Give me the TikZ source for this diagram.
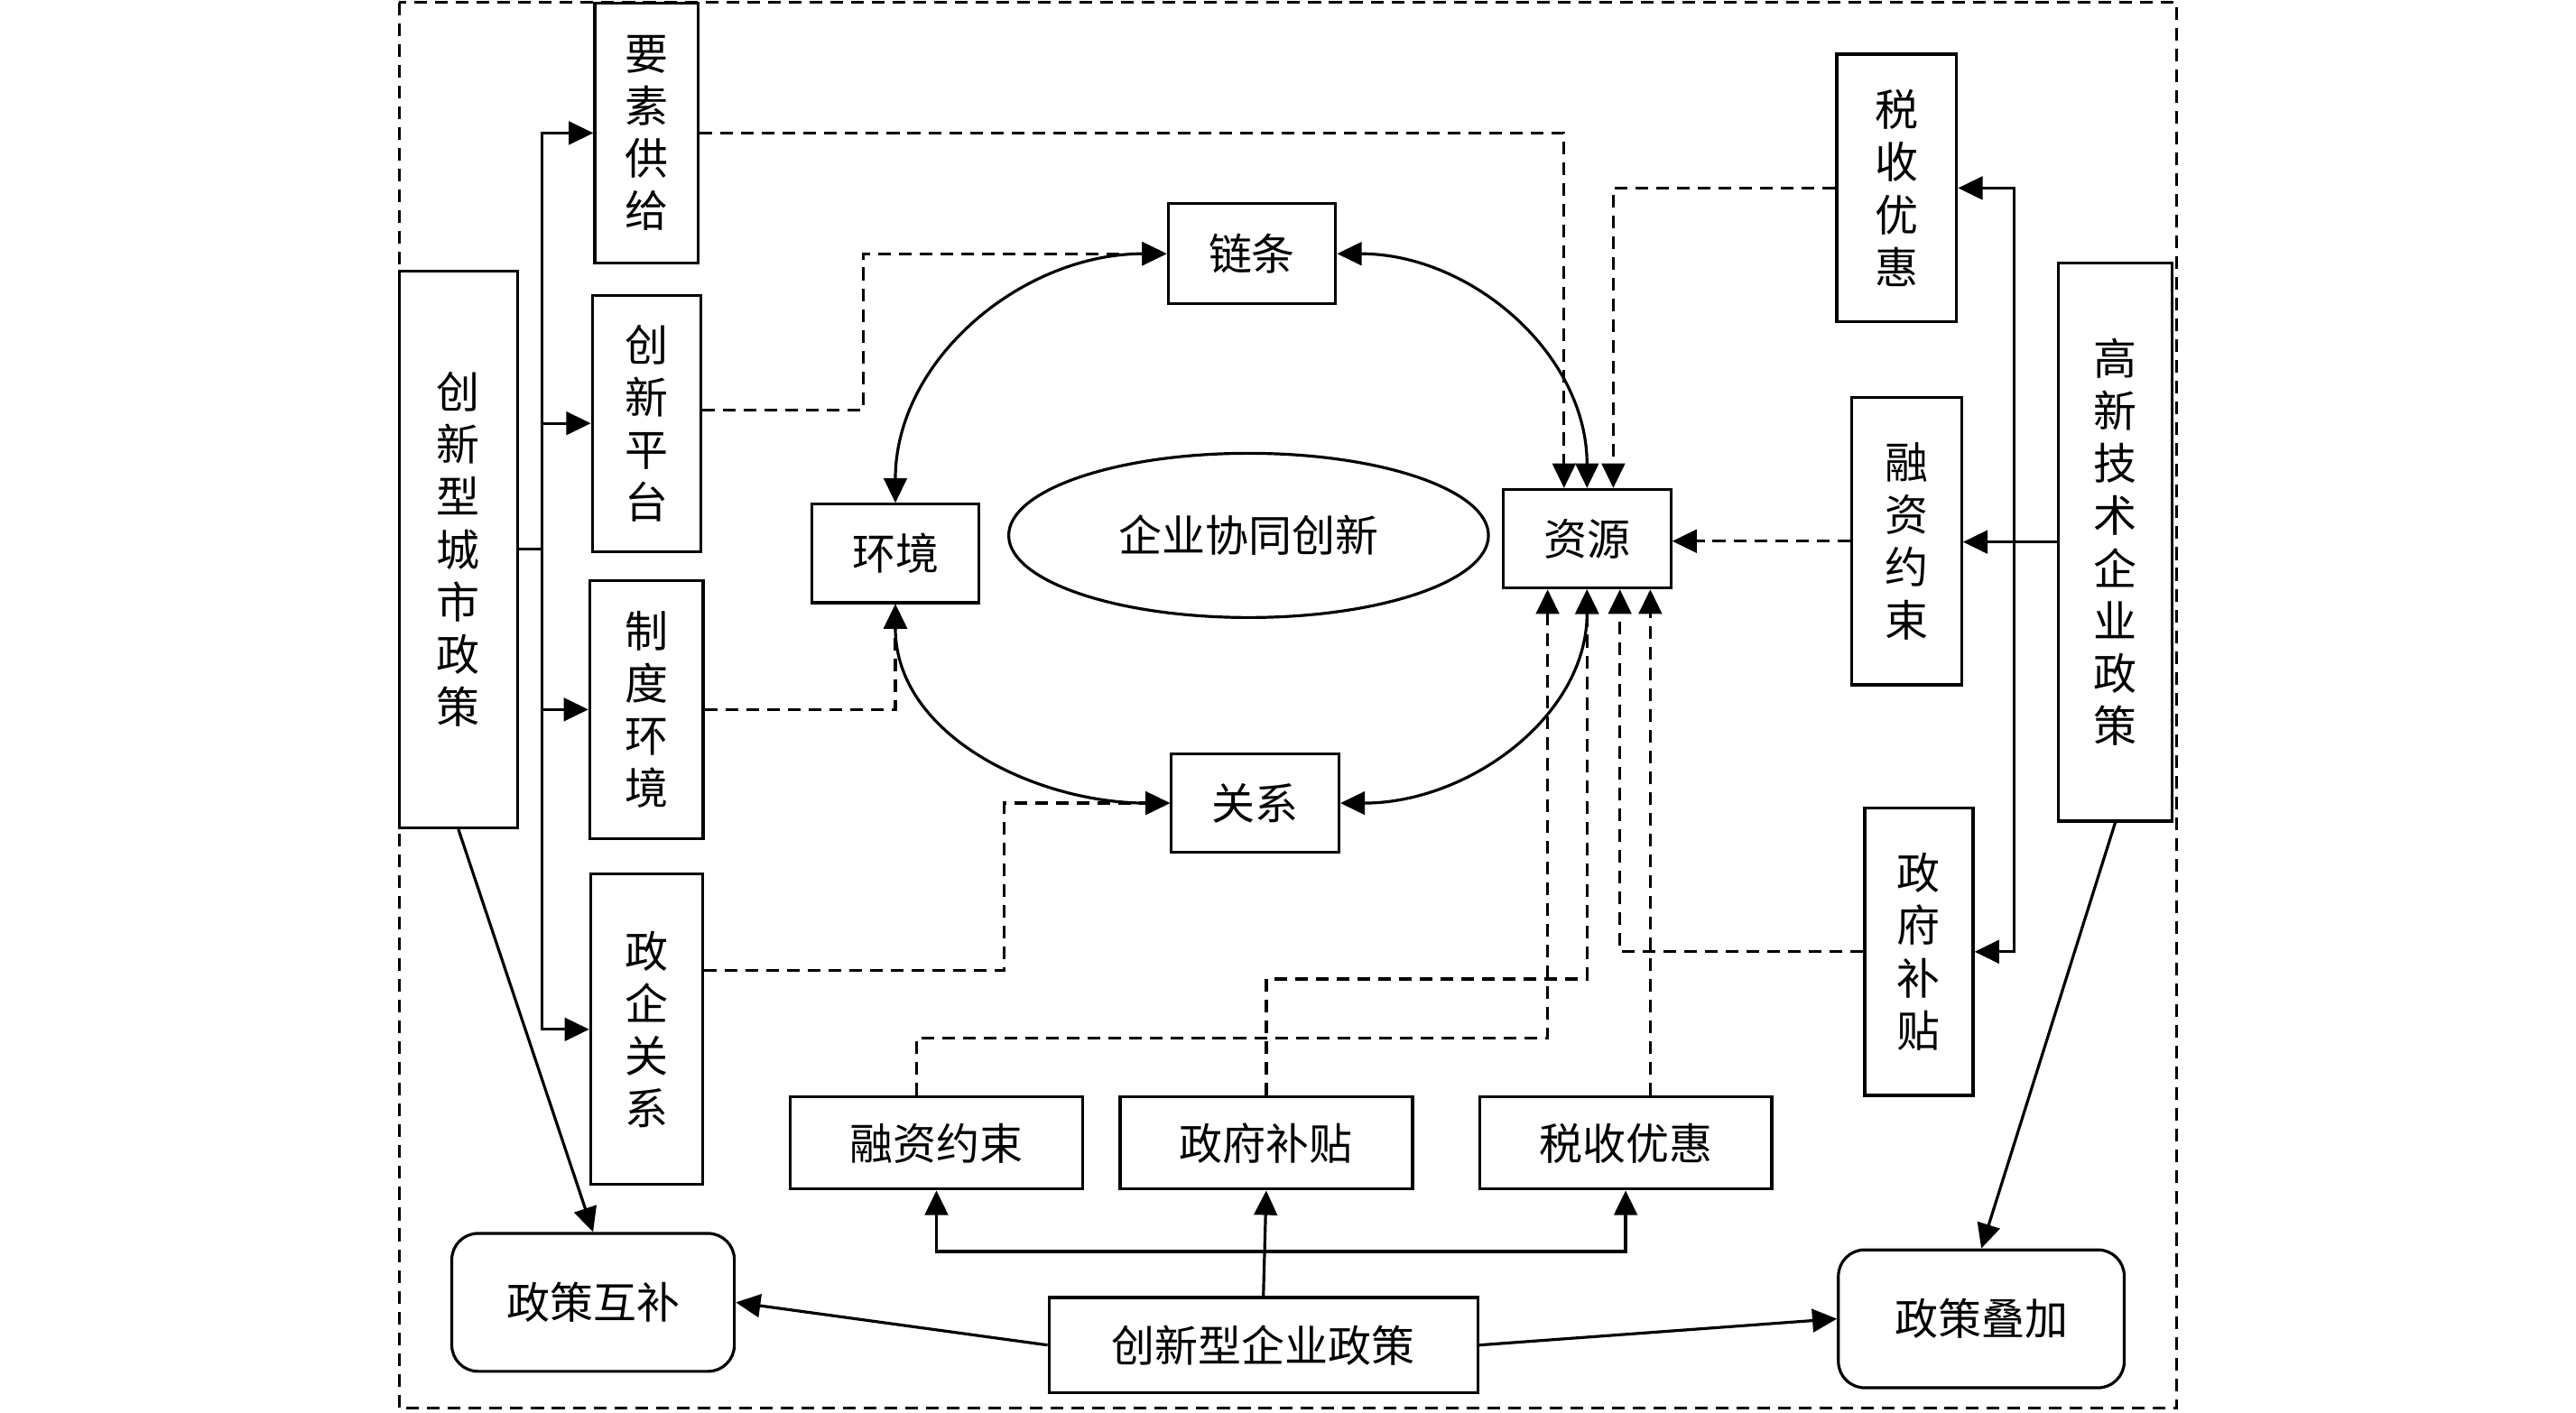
\documentclass[tikz,border=0pt]{standalone}
\usepackage{fontspec}
\newfontfamily\cjk{Noto Sans CJK SC}
\usetikzlibrary{arrows.meta,shapes,positioning}

\begin{document}
\begin{tikzpicture}[
        >={Triangle[length=8.5pt,width=8pt]},
        every node/.style={font=\cjk\fontsize{15}{18.2}\selectfont, align=center, inner sep=0pt},
        every path/.style={line width=1pt},
        box/.style={draw, line width=1pt, rectangle},
        roundbox/.style={draw, line width=1pt, rounded corners=0.32cm},
        influence/.style={dash pattern=on 4.4pt off 2.8pt}
    ]

    \useasboundingbox (0,0) rectangle (31.36,-17.2);
    \draw[influence] (4.86,-0.03) rectangle (26.5,-17.15);

    % Nodes
    \node (city)[box, minimum width=1.44cm, minimum height=6.78cm] at (5.58,-6.69) {创\\新\\型\\城\\市\\政\\策};
    \node (yaosu)[box, minimum width=1.26cm, minimum height=3.16cm] at (7.87,-1.62) {要\\素\\供\\给};
    \node (pingtai)[box, below=0.36cm of yaosu, minimum width=1.32cm, minimum height=3.12cm] {创\\新\\平\\台};
    \node (zhidu)[box, below=0.32cm of pingtai, minimum width=1.38cm, minimum height=3.14cm] {制\\度\\环\\境};
    \node (zhengqi)[box, below=0.4cm of zhidu, minimum width=1.36cm, minimum height=3.78cm] {政\\企\\关\\系};

    \node (lian)[box, minimum width=2.04cm, minimum height=1.22cm] at (15.24,-3.09) {链条};
    \node (huanjing)[box, minimum width=2.04cm, minimum height=1.2cm] at (10.9,-6.74) {环境};
    \node (core)[draw, ellipse, line width=1pt, minimum width=5.84cm, minimum height=2cm] at (15.2,-6.52) {企业协同创新};
    \node (ziyuan)[box, minimum width=2.04cm, minimum height=1.2cm] at (19.32,-6.56) {资源};
    \node (guanxi)[box, minimum width=2.04cm, minimum height=1.2cm] at (15.28,-9.78) {关系};

    \node (shui2)[box, minimum width=1.46cm, minimum height=3.26cm] at (23.09,-2.29) {税\\收\\优\\惠};
    \node (rong2)[box, minimum width=1.34cm, minimum height=3.5cm] at (23.21,-6.59) {融\\资\\约\\束};
    \node (zheng2)[box, minimum width=1.32cm, minimum height=3.5cm] at (23.36,-11.59) {政\\府\\补\\贴};
    \node (gaoxin)[box, minimum width=1.38cm, minimum height=6.8cm] at (25.75,-6.6) {高\\新\\技\\术\\企\\业\\政\\策};

    \node (rongzi)[box, minimum width=3.56cm, minimum height=1.12cm] at (11.4,-13.92) {融资约束};
    \node (butie)[box, right=0.42cm of rongzi, minimum width=3.56cm, minimum height=1.12cm] {政府补贴};
    \node (shuishou)[box, right=0.78cm of butie, minimum width=3.56cm, minimum height=1.12cm] {税收优惠};
    \node (qiye)[box, minimum width=5.22cm, minimum height=1.16cm] at (15.38,-16.38) {创新型企业政策};
    \node (hubu)[roundbox, minimum width=3.44cm, minimum height=1.68cm] at (7.22,-15.86) {政策互补};
    \node (diejia)[roundbox, minimum width=3.48cm, minimum height=1.68cm] at (24.12,-16.06) {政策叠加};

    % Edges
    \coordinate (trunkL) at (6.6,-6.69);
    \draw (city.east) -- (trunkL);
    \draw[->] (trunkL) |- (yaosu.west);
    \draw[->] (trunkL) |- (pingtai.west);
    \draw[->] (trunkL) |- (zhidu.west);
    \draw[->] (trunkL) |- (zhengqi.west);

    \draw[<->] (lian.west) to[out=180,in=90] (huanjing.north);
    \draw[<->] (lian.east) to[out=0,in=90] (ziyuan.north);
    \draw[<->] (huanjing.south) to[out=-90,in=180] (guanxi.west);
    \draw[<->] (ziyuan.south) to[out=-90,in=0] (guanxi.east);

    \draw[influence,->] (yaosu.east) -| ([xshift=-0.28cm]ziyuan.north);
    \draw[influence,->] ([yshift=0.16cm]pingtai.east) -- ++(1.96,0) |- (lian.west);
    \draw[influence,->] (zhidu.east) -| (huanjing.south);
    \draw[influence,->] ([yshift=0.72cm]zhengqi.east) -- ++(3.66,0) |- (guanxi.west);
    \draw[influence,->] (shui2.west) -| ([xshift=0.32cm]ziyuan.north);
    \draw[influence,->] (rong2.west) -- (rong2.west -| ziyuan.east);
    \draw[influence,->] (zheng2.west) -| ([xshift=0.4cm]ziyuan.south);
    \draw[influence,->] ([xshift=-0.24cm]rongzi.north) -- ++(0,0.7) -| ([xshift=-0.48cm]ziyuan.south);
    \draw[influence,->] (butie.north) -- ++(0,1.42) -| (ziyuan.south);
    \draw[influence,->] ([xshift=0.3cm]shuishou.north) -- ([xshift=0.3cm]shuishou.north |- ziyuan.south);

    \coordinate (trunkR) at (24.52,-6.6);
    \draw[->] (gaoxin.west) -- (gaoxin.west -| rong2.east);
    \draw[->] (trunkR) |- (shui2.east);
    \draw[->] (trunkR) |- (zheng2.east);

    \coordinate (trunkB) at (15.38,-15.24);
    \draw[->] (qiye.north) -- (butie.south);
    \draw[->] (trunkB) -| (rongzi.south);
    \draw[->] (trunkB) -| (shuishou.south);

    \draw[->] (qiye.west) -- (hubu.east);
    \draw[->] (qiye.east) -- (diejia.west);
    \draw[->] (city.south) -- (hubu.north);
    \draw[->] (gaoxin.south) -- (diejia.north);

\end{tikzpicture}
\end{document}
